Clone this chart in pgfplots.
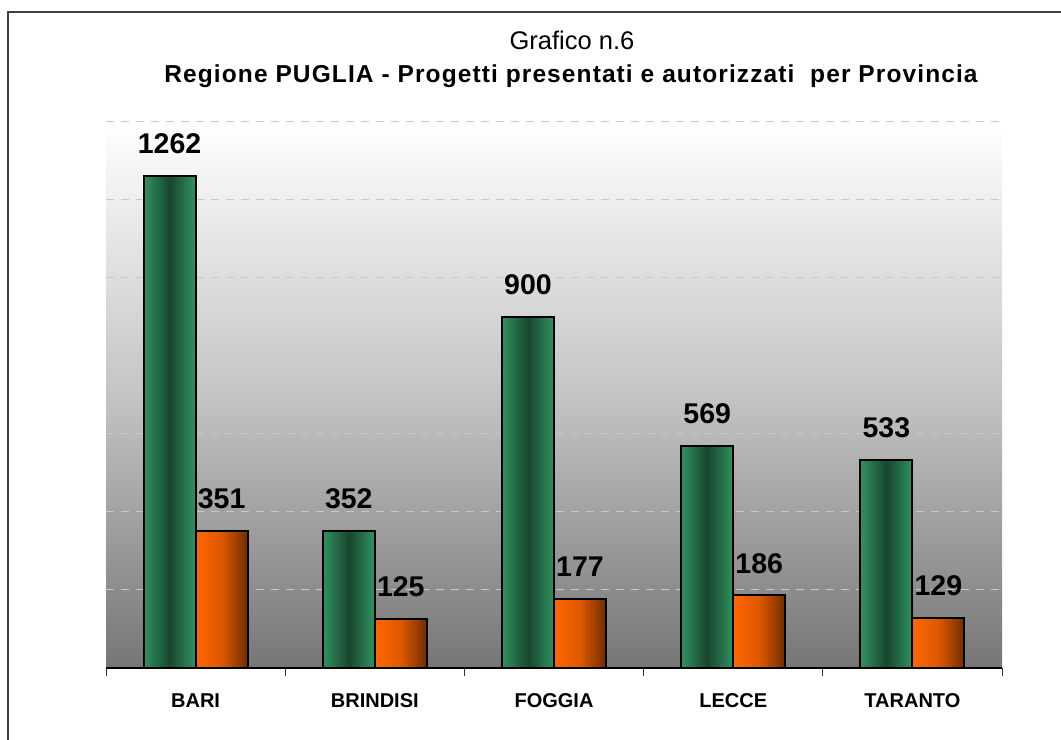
\documentclass[border=0pt]{standalone}
\usepackage{pgfplots}
\pgfplotsset{compat=1.18}
\usepackage{fontspec}
\setmainfont{Liberation Sans}
\definecolor{gL}{RGB}{48,146,96}
\definecolor{gD}{RGB}{24,70,46}
\definecolor{oL}{RGB}{255,102,0}
\definecolor{oM}{RGB}{222,88,0}
\definecolor{oD}{RGB}{112,44,0}
\definecolor{gridc}{RGB}{200,200,200}
\begin{document}
\begin{tikzpicture}[x=1bp,y=1bp]
\useasboundingbox (0,0) rectangle (1061,740);
\draw[line width=2bp, black!75] (8,-5) -- (8,728) -- (1070,728);
\node[anchor=base, inner sep=0pt, font=\fontsize{25.5bp}{28bp}\selectfont] at (572,690) {Grafico n.6};
\node[anchor=base, inner sep=0pt, font=\fontsize{24.5bp}{27bp}\selectfont\bfseries\addfontfeature{LetterSpace=4.5}] at (571,657) {Regione PUGLIA - Progetti presentati e autorizzati\ \ per Provincia};
\begin{axis}[
  at={(106bp,72bp)}, anchor=south west,
  width=896bp, height=546bp, scale only axis,
  xmin=-0.5, xmax=4.5, ymin=0, ymax=1400,
  axis x line*=bottom, axis y line*=left,
  x axis line style={-, black, line width=1.2bp},
  y axis line style={draw=none},
  xtick={0,1,2,3,4},
  xticklabels={BARI,BRINDISI,FOGGIA,LECCE,TARANTO},
  minor xtick={-0.5,0.5,1.5,2.5,3.5,4.5},
  major tick length=0pt, minor tick length=8bp,
  tick align=outside,
  minor tick style={black!80, line width=1bp},
  xticklabel style={font=\fontsize{20bp}{22bp}\selectfont\bfseries, yshift=-22bp},
  ytick={200,400,600,800,1000,1200,1400},
  yticklabels={},
  ymajorgrids,
  grid style={gridc, line width=1bp, dash pattern=on 8bp off 7bp},
  axis background/.style={shade, top color=white, bottom color={rgb,255:red,118;green,118;blue,118}, middle color={rgb,255:red,196;green,196;blue,196}},
  clip=false,
  /pgf/number format/assume math mode=true,
  /pgf/number format/1000 sep={},
  gbar/.style={ybar, bar width=52bp, bar shift=-26bp, draw=black, line width=2bp,
     left color=gL, right color=gL, middle color=gD, nodes near coords,
     nodes near coords style={text=black, anchor=south, inner sep=0pt, yshift=21bp, xshift=-26bp,
     font=\fontsize{28.5bp}{30bp}\selectfont\bfseries}},
  obar/.style={ybar, bar width=52bp, bar shift=26bp, draw=black, line width=2bp,
     left color=oL, right color=oD, middle color=oM, nodes near coords,
     nodes near coords style={text=black, anchor=south, inner sep=0pt, yshift=21bp, xshift=26bp,
     font=\fontsize{28.5bp}{30bp}\selectfont\bfseries}},
]
\addplot[gbar] coordinates {(0,1262)};
\addplot[obar] coordinates {(0,351)};
\addplot[gbar] coordinates {(1,352)};
\addplot[obar] coordinates {(1,125)};
\addplot[gbar] coordinates {(2,900)};
\addplot[obar] coordinates {(2,177)};
\addplot[gbar] coordinates {(3,569)};
\addplot[obar] coordinates {(3,186)};
\addplot[gbar] coordinates {(4,533)};
\addplot[obar] coordinates {(4,129)};
\end{axis}
\end{tikzpicture}
\end{document}
